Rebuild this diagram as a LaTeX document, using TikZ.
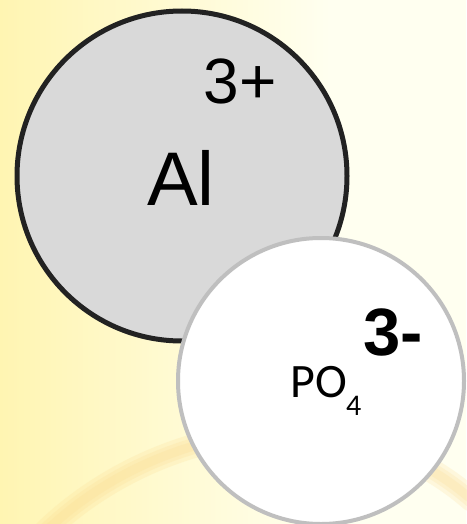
\documentclass[tikz,border=0pt]{standalone}
\usepackage{fontspec}
\setmainfont{Liberation Sans}
\newfontfamily\calib{Carlito}
\definecolor{bgleft}{HTML}{FFF5B2}
\definecolor{bgright}{HTML}{FFFFF0}
\definecolor{bandc}{HTML}{FAD98C}
\definecolor{algray}{HTML}{D9D9D9}
\definecolor{alline}{HTML}{222222}
\definecolor{poline}{HTML}{BFBFBF}
\tikzset{
  ion/.style={circle, inner sep=0pt},
  lbl/.style={inner sep=0pt, anchor=base, text=black},
  band/.style={bandc, line cap=round, opacity=0.2},
}
\begin{document}
\begin{tikzpicture}[x=1pt, y=-1pt]
  \useasboundingbox (0,0) rectangle (466,524);
  \fill[bgright] (0,0) rectangle (466,524);
  \shade[left color=bgleft, right color=bgright] (0,0) rectangle (330,524);
  \foreach \w in {24,16,9} {
    \draw[band, line width=\w pt]
      (45,532) .. controls (150,430) and (340,385) .. (472,500);
  }
  \node[ion, draw=alline, line width=5pt, fill=algray, minimum size=330pt] (al) at (182,176) {};
  \node[ion, draw=poline, line width=4pt, fill=white, minimum size=286pt] (po) at (321,381) {};
  \node[lbl, font=\fontsize{64}{64}\selectfont] (charge1) at (240,103) {3+};
  \node[lbl, font=\fontsize{76}{76}\selectfont] (sym1) at (181,205) {Al};
  \node[lbl, font=\fontsize{67}{67}\selectfont\bfseries] (charge2) at (393,355) {3-};
  \node[lbl, anchor=base west, font=\calib\fontsize{48}{48}\selectfont] (sym2) at (290,397) {PO};
  \node[lbl, anchor=base west, font=\calib\fontsize{30}{30}\selectfont] (sub2) at (346,415) {4};
\end{tikzpicture}
\end{document}
